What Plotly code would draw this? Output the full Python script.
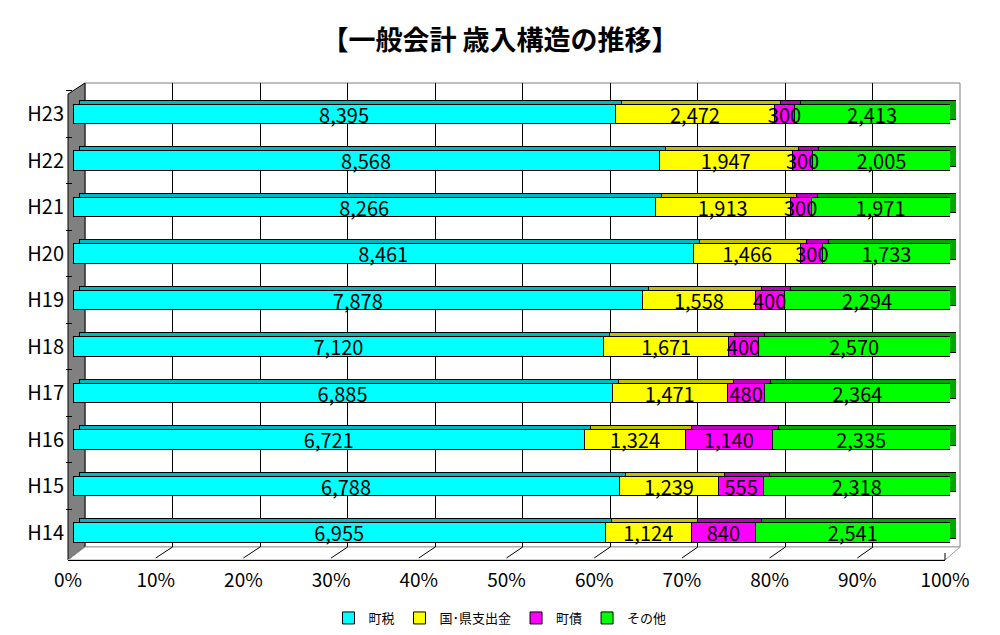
import plotly.graph_objects as go

# ---- data ----
years = ["H14", "H15", "H16", "H17", "H18", "H19", "H20", "H21", "H22", "H23"]
series_names = ["町税", "国･県支出金", "町債", "その他"]
town_tax = [6955, 6788, 6721, 6885, 7120, 7878, 8461, 8266, 8568, 8395]
gov_pref = [1124, 1239, 1324, 1471, 1671, 1558, 1466, 1913, 1947, 2472]
town_bond = [840, 555, 1140, 480, 400, 400, 300, 300, 300, 300]
others = [2541, 2318, 2335, 2364, 2570, 2294, 1733, 1971, 2005, 2413]
pct_ticks = [0, 10, 20, 30, 40, 50, 60, 70, 80, 90, 100]
pct_labels = [f"{t}%" for t in pct_ticks]

series_values = [town_tax, gov_pref, town_bond, others]
front_colors = ["#00FFFF", "#FFFF00", "#FF00FF", "#00FF00"]
dark_colors = ["#00B8C0", "#C0C000", "#C000C0", "#00A800"]

FONT = "Noto Sans CJK JP"
OFF = 8            # page body margin
W, H = 984, 619    # figure size so that it fits in the 1000x635 window


def px(x):
    return (x - OFF) / W


def py(y):
    return 1 - (y - OFF) / H


fig = go.Figure()

# invisible trace for the back-wall grid axes
fig.add_trace(go.Scatter(x=[0, 100], y=[0, 1], xaxis="x", yaxis="y", mode="markers",
                         marker=dict(opacity=0), showlegend=False, hoverinfo="skip"))
# invisible trace for the front tick label axis
fig.add_trace(go.Scatter(x=[0, 100], y=[0, 1], xaxis="x4", yaxis="y", mode="markers",
                         marker=dict(opacity=0), showlegend=False, hoverinfo="skip"))

# depth (shadow) bars -> top and side faces
for name, vals, col in zip(series_names, series_values, dark_colors):
    fig.add_trace(go.Bar(y=years, x=vals, orientation="h", name=name, xaxis="x2", yaxis="y2",
                         width=0.41, marker=dict(color=col, line=dict(color="black", width=1)),
                         showlegend=False, hoverinfo="skip"))

# front bars
for name, vals, col in zip(series_names, series_values, front_colors):
    fig.add_trace(go.Bar(y=years, x=vals, orientation="h", name=name, xaxis="x3", yaxis="y3",
                         width=0.41, marker=dict(color=col, line=dict(color="black", width=1)),
                         hoverinfo="skip"))

# value labels on top of everything (transparent bars, same scale as the front)
for name, vals in zip(series_names, series_values):
    fig.add_trace(go.Bar(y=years, x=vals, orientation="h", name=name, xaxis="x5", yaxis="y5",
                         width=0.41, marker=dict(color="rgba(0,0,0,0)", line=dict(width=0)),
                         text=[f"{v:,}" for v in vals], textposition="inside",
                         insidetextanchor="middle", textangle=0, constraintext="none",
                         textfont=dict(family=FONT, size=20, color="black"),
                         showlegend=False, hoverinfo="skip"))

# 3D frame decorations
shapes = [
    # back wall
    dict(type="rect", xref="paper", yref="paper", x0=px(85), x1=px(960), y0=py(547), y1=py(83),
         line=dict(color="#808080", width=1), fillcolor="white", layer="below"),
    # left wall
    dict(type="path", xref="paper", yref="paper",
         path=f"M {px(68)},{py(94)} L {px(85)},{py(83)} L {px(85)},{py(547)} L {px(68)},{py(560)} Z",
         line=dict(color="black", width=1), fillcolor="#808080", layer="below"),
    # floor
    dict(type="path", xref="paper", yref="paper",
         path=f"M {px(68)},{py(560)} L {px(85)},{py(547)} L {px(960)},{py(547)} L {px(945)},{py(560)} Z",
         line=dict(color="#A0A0A0", width=1), fillcolor="white", layer="below"),
    # small end tick at 100%
    dict(type="line", xref="paper", yref="paper", x0=px(945), y0=py(553), x1=px(945), y1=py(560),
         line=dict(color="black", width=1), layer="below"),
]
# floor diagonals under each interior gridline
for t in pct_ticks[1:-1]:
    xb = 85 + t * (960.5 - 85) / 100
    xf = 68 + t * (945 - 68) / 100
    shapes.append(dict(type="line", xref="paper", yref="paper", x0=px(xb), y0=py(547),
                       x1=px(xf), y1=py(558), line=dict(color="black", width=1), layer="below"))
fig.update_layout(shapes=shapes)

fig.update_layout(
    width=W, height=H,
    margin=dict(l=0, r=0, t=0, b=0, autoexpand=False),
    paper_bgcolor="white", plot_bgcolor="rgba(0,0,0,0)",
    barmode="stack", barnorm="percent",
    font=dict(family=FONT, color="black"),
    uniformtext=dict(minsize=20, mode="show"),
    title=dict(text="【一般会計 歳入構造の推移】", x=px(500), xanchor="center", y=py(41), yanchor="middle",
               font=dict(family=FONT, size=27, color="black", weight=700)),
    showlegend=True,
    legend=dict(orientation="h", x=px(500), xanchor="center", y=py(618), yanchor="middle",
                font=dict(family=FONT, size=13), itemwidth=30, bgcolor="rgba(0,0,0,0)",
                traceorder="normal"),
    # grid axes (back wall)
    xaxis=dict(domain=[px(85), px(960.5)], range=[0, 100], tickvals=pct_ticks[1:-1],
               showgrid=True, gridcolor="black", gridwidth=1, zeroline=False,
               showticklabels=False, ticks="", showline=False, fixedrange=True),
    yaxis=dict(domain=[py(547), py(83)], range=[0, 1], showgrid=False, zeroline=False,
               showticklabels=False, ticks="", showline=False, fixedrange=True),
    # shadow axes
    xaxis2=dict(domain=[px(79), px(956)], range=[0, 100], anchor="y2", showgrid=False,
                zeroline=False, showticklabels=False, ticks="", showline=False),
    yaxis2=dict(domain=[py(555.75 - 4), py(90.75 - 4)], range=[-0.5, 9.5], anchor="x2",
                type="category", showgrid=False, zeroline=False, showticklabels=False,
                ticks="", showline=False),
    # front axes
    xaxis3=dict(domain=[px(73), px(950)], range=[0, 100], anchor="y3", showgrid=False,
                zeroline=False, showticklabels=False, ticks="", showline=False),
    yaxis3=dict(domain=[py(555.75), py(90.75)], range=[-0.5, 9.5], anchor="x3",
                type="category", showgrid=False, zeroline=False,
                ticks="outside", ticklen=6, tickcolor="black", tickson="boundaries",
                ticklabelstandoff=8,
                tickfont=dict(family=FONT, size=20, color="black"), showline=False),
    # text overlay axes (same placement as front)
    xaxis5=dict(domain=[px(73), px(950)], range=[0, 100], anchor="y5", showgrid=False,
                zeroline=False, showticklabels=False, ticks="", showline=False),
    yaxis5=dict(domain=[py(555.75), py(90.75)], range=[-0.5, 9.5], anchor="x5",
                type="category", showgrid=False, zeroline=False, showticklabels=False,
                ticks="", showline=False),
    # front % labels
    xaxis4=dict(domain=[px(68), px(945)], range=[0, 100], anchor="free", position=py(560),
                tickvals=pct_ticks, ticktext=pct_labels, showgrid=False, zeroline=False,
                showline=True, linecolor="black", linewidth=1, ticks="", ticklabelstandoff=3,
                tickfont=dict(family=FONT, size=19, color="black")),
)

fig.write_html("out.html")
